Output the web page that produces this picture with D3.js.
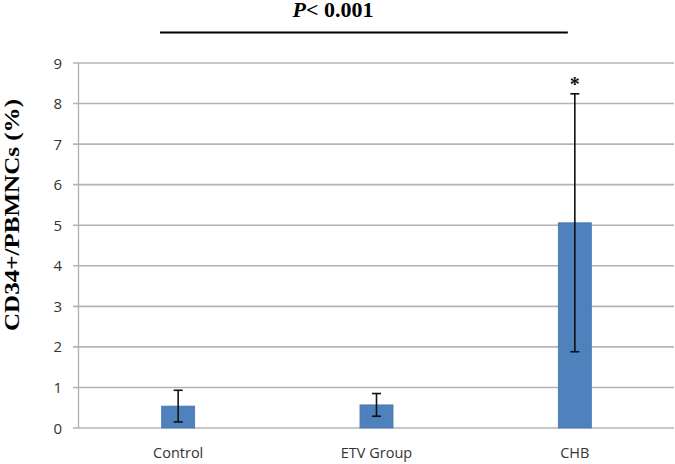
<!DOCTYPE html>
<html><head><meta charset="utf-8">
<script src="https://cdn.jsdelivr.net/npm/d3@7"></script>
<style>body{margin:0;background:#fff}svg{display:block}</style>
</head><body>
<script>
const categories = ["Control", "ETV Group", "CHB"];
const means = [0.54, 0.57, 5.06];
const errors = [0.39, 0.28, 3.18];
const yTicks = [0,1,2,3,4,5,6,7,8,9];
const yLabel = "CD34+/PBMNCs (%)";
const sigLabel = "0.001";

const W = 675, H = 464;
const svg = d3.select("body").append("svg").attr("width", W).attr("height", H);
const x = d3.scaleBand().domain(categories).range([79, 674]).padding(0);
const y = d3.scaleLinear().domain([0, 9]).range([428, 63]);

// gridlines
svg.append("g").selectAll("line").data(yTicks).join("line")
  .attr("x1", 73).attr("x2", 674)
  .attr("y1", d => y(d)).attr("y2", d => y(d))
  .attr("stroke", "#b4b4b4").attr("stroke-width", 1.6);
// y axis line
svg.append("line").attr("x1", 78.5).attr("x2", 78.5).attr("y1", y(9)).attr("y2", y(0))
  .attr("stroke", "#b4b4b4").attr("stroke-width", 1.4);

// y tick labels
svg.append("g").selectAll("text").data(yTicks).join("text")
  .attr("x", 62).attr("y", d => y(d) + 5.5)
  .attr("text-anchor", "end")
  .attr("font-family", "Open Sans, sans-serif").attr("font-size", 15).attr("fill", "#333")
  .text(d => d);

// bars
const bw = x.bandwidth() / 6;
const cx = d => x(d) + x.bandwidth() / 2;
svg.append("g").selectAll("rect").data(categories).join("rect")
  .attr("x", d => cx(d) - bw / 2).attr("width", bw)
  .attr("y", (d, i) => y(means[i])).attr("height", (d, i) => y(0) - y(means[i]))
  .attr("fill", "#4f81bd").attr("stroke", "#4a78b0").attr("stroke-width", 0.8);

// error bars
const eb = svg.append("g").attr("stroke", "#111").attr("stroke-width", 1.6);
categories.forEach((c, i) => {
  const hi = y(means[i] + errors[i]), lo = y(means[i] - errors[i]);
  eb.append("line").attr("x1", cx(c)).attr("x2", cx(c)).attr("y1", hi).attr("y2", lo);
  eb.append("line").attr("x1", cx(c) - 4.5).attr("x2", cx(c) + 4.5).attr("y1", hi).attr("y2", hi);
  eb.append("line").attr("x1", cx(c) - 4.5).attr("x2", cx(c) + 4.5).attr("y1", lo).attr("y2", lo);
});

// star
svg.append("text").attr("x", cx("CHB")).attr("y", y(means[2] + errors[2]) - 3)
  .attr("text-anchor", "middle").attr("font-family", "Liberation Serif, serif")
  .attr("font-weight", "bold").attr("font-size", 20).attr("fill", "#111").text("*");

// x labels
svg.append("g").selectAll("text").data(categories).join("text")
  .attr("x", d => cx(d)).attr("y", 458)
  .attr("text-anchor", "middle")
  .attr("font-family", "Open Sans, sans-serif").attr("font-size", 14.5).attr("fill", "#333")
  .text(d => d);

// y label
svg.append("text")
  .attr("transform", `translate(19,215) rotate(-90)`)
  .attr("text-anchor", "middle")
  .attr("font-family", "Liberation Serif, Times New Roman, serif").attr("font-weight", "bold")
  .attr("font-size", 20).attr("fill", "#000")
  .attr("textLength", 232).attr("lengthAdjust", "spacingAndGlyphs")
  .text(yLabel);

// significance line and label
svg.append("line").attr("x1", x("Control") + 81).attr("x2", cx("CHB") - 7)
  .attr("y1", 32.5).attr("y2", 32.5).attr("stroke", "#000").attr("stroke-width", 2);
const t = svg.append("text").attr("x", 333).attr("y", 16.5).attr("text-anchor", "middle")
  .attr("font-family", "Liberation Serif, Times New Roman, serif").attr("font-weight", "bold")
  .attr("font-size", 20).attr("fill", "#000")
  .attr("textLength", 81).attr("lengthAdjust", "spacingAndGlyphs");
t.append("tspan").attr("font-style", "italic").text("P");
t.append("tspan").text("< " + sigLabel);
</script>
</body></html>
